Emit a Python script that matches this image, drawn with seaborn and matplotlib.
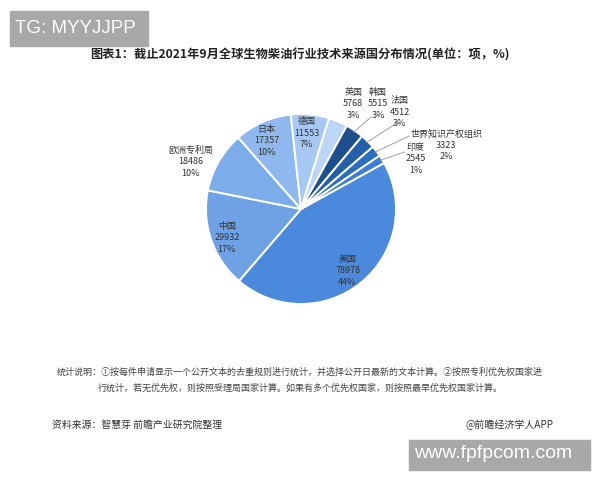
import numpy as np
import matplotlib.pyplot as plt
import seaborn as sns

# data
sources = ['美国', '中国', '欧洲专利局', '日本', '德国', '英国', '韩国', '法国', '世界知识产权组织', '印度']
counts = [78978, 29932, 18486, 17357, 11553, 5768, 5515, 4512, 3323, 2545]
shares = ['44%', '17%', '10%', '10%', '7%', '3%', '3%', '3%', '2%', '1%']

title = '图表1：截止2021年9月全球生物柴油行业技术来源国分布情况(单位：项，%)'
note_1 = '统计说明：①按每件申请显示一个公开文本的去重规则进行统计，并选择公开日最新的文本计算。②按照专利优先权国家进'
note_2 = '行统计，若无优先权，则按照受理局国家计算。如果有多个优先权国家，则按照最早优先权国家计算。'
source_txt = '资料来源：智慧芽 前瞻产业研究院整理'
credit_txt = '@前瞻经济学人APP'

sns.set_theme(style='white')
plt.rcParams['font.family'] = ['Noto Sans CJK SC', 'DejaVu Sans']

colors = ['#4a89dc', '#6ea2e5', '#7cadea', '#8fb9ee', '#a6c8f2', '#bcd6f5',
          '#1f4e8d', '#245fa9', '#2c6dc2', '#3b7cd6']

fig = plt.figure(figsize=(6, 4.8), dpi=100)
fig.patch.set_facecolor('white')

# pie: centre ~(301, 209) px, radius ~95 px
R = 95
ax = fig.add_axes([(301 - 2.5 * R) / 600, (480 - 209 - 2 * R) / 480, 5 * R / 600, 4 * R / 480])
wedges, _ = ax.pie(counts, colors=colors, startangle=29, counterclock=False,
                   wedgeprops=dict(edgecolor='white', linewidth=1.4))
ax.set_xlim(-2.5, 2.5)
ax.set_ylim(-2, 2)
ax.set_aspect('equal')
ax.axis('off')

# label centres (data units, radius = 1), one text per line
label_pos = [(0.49, -0.65), (-0.78, -0.305), (-1.16, 0.50), (-0.36, 0.72), (0.06, 0.80),
             (0.55, 1.11), (0.81, 1.11), (1.04, 1.02), (1.53, 0.67), (1.21, 0.53)]
leader_end = {6: (0.74, 0.97), 7: (1.00, 0.90), 8: (1.14, 0.77), 9: (1.09, 0.60)}
step = 11.5 / R

for i, (name, val, pct) in enumerate(zip(sources, counts, shares)):
    x, y = label_pos[i]
    for k, line in enumerate([name, str(val), pct]):
        ax.text(x, y + (1 - k) * step, line, ha='center', va='center', fontsize=6.5,
                color='#333333')
    if i in leader_end:
        w = wedges[i]
        mid = np.deg2rad((w.theta1 + w.theta2) / 2)
        ax.plot([0.98 * np.cos(mid), leader_end[i][0]], [0.98 * np.sin(mid), leader_end[i][1]],
                color='#a0a0a0', lw=0.7)

fig.text(0.5, 1 - 55 / 480, title, ha='center', va='center', fontsize=8.8,
         fontweight='bold', color='#222222')
fig.text(0.5, 1 - 372 / 480, note_1, ha='center', va='center', fontsize=6.5, color='#444444')
fig.text(0.5, 1 - 388 / 480, note_2, ha='center', va='center', fontsize=6.5, color='#444444')
fig.text(52 / 600, 1 - 425 / 480, source_txt, ha='left', va='center', fontsize=7.1, color='#333333')
fig.text(553 / 600, 1 - 425 / 480, credit_txt, ha='right', va='center', fontsize=7.2, color='#333333')

# watermark boxes
fig.patches.append(plt.Rectangle((10 / 600, 1 - 46 / 480), 138 / 600, 35 / 480,
                                 transform=fig.transFigure, color='#a8a8a8', zorder=5))
fig.text(15 / 600, 1 - 28.5 / 480, 'TG: MYYJJPP', ha='left', va='center', fontsize=13.5,
         color='white', family='Liberation Sans', zorder=6)
fig.patches.append(plt.Rectangle((409 / 600, 1 - 470 / 480), 181 / 600, 30 / 480,
                                 transform=fig.transFigure, color='#a8a8a8', zorder=5))
fig.text(414 / 600, 1 - 454 / 480, 'www.fpfpcom.com', ha='left', va='center', fontsize=14,
         color='white', family='Liberation Sans', zorder=6)

fig.savefig('out.png', dpi=100)
